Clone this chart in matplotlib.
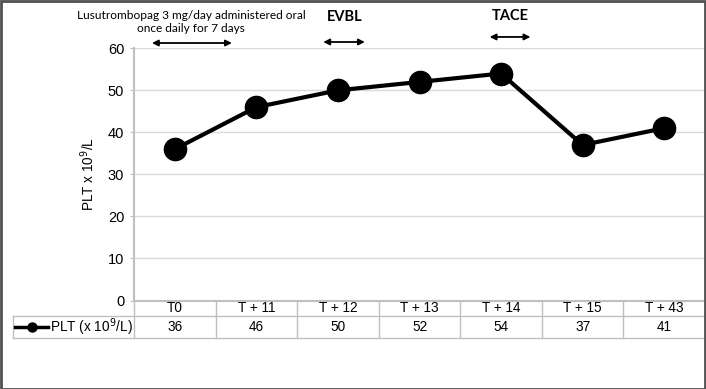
import matplotlib
matplotlib.use("Agg")
import matplotlib.pyplot as plt
from matplotlib.lines import Line2D
from matplotlib.patches import Rectangle

categories = ["T0", "T + 11", "T + 12", "T + 13", "T + 14", "T + 15", "T + 43"]
plt_values = [36, 46, 50, 52, 54, 37, 41]
y_ticks = [0, 10, 20, 30, 40, 50, 60]
series_label = "PLT (x 10$^{9}$/L)"

W, H = 706, 389
fig = plt.figure(figsize=(W / 100, H / 100), dpi=100)
ax = fig.add_axes([134 / W, 1 - 300.5 / H, 571 / W, 252.2 / H])

FS = 9.8
x = list(range(len(categories)))
ax.plot(x, plt_values, color="black", lw=3, marker="o", ms=16, zorder=5, clip_on=False)
ax.set_xlim(-0.5, len(categories) - 0.5)
ax.set_ylim(0, 60)
ax.set_yticks(y_ticks)
ax.set_yticklabels([str(v) for v in y_ticks], fontfamily="Liberation Sans", fontsize=FS + 0.7)
ax.tick_params(axis="y", length=3, color="#bfbfbf", pad=4)
ax.set_xticks([])
ax.grid(axis="y", color="#d9d9d9", lw=1)
ax.set_axisbelow(True)
for s in ["top", "right"]:
    ax.spines[s].set_visible(False)
ax.spines["left"].set_color("#bfbfbf")
ax.spines["left"].set_linewidth(1.5)
ax.spines["bottom"].set_color("#bfbfbf")
ax.spines["bottom"].set_linewidth(1.5)
ax.set_ylabel("PLT x 10$^{9}$/L", fontfamily="Liberation Sans", fontsize=FS, labelpad=8)

# Data table below the axis
trans = ax.get_xaxis_transform()
r1, r2 = -0.0615, -0.149
grid_c = "#bfbfbf"
left_edge = -1.98
for i in range(len(categories) + 1):
    xb = i - 0.5
    ax.add_line(Line2D([xb, xb], [0, r2], transform=trans, color=grid_c, lw=1, clip_on=False))
ax.add_line(Line2D([left_edge, left_edge], [r1, r2], transform=trans, color=grid_c, lw=1, clip_on=False))
ax.add_line(Line2D([left_edge, len(categories) - 0.5], [r1, r1], transform=trans, color=grid_c, lw=1, clip_on=False))
ax.add_line(Line2D([left_edge, len(categories) - 0.5], [r2, r2], transform=trans, color=grid_c, lw=1, clip_on=False))
for i, (c, v) in enumerate(zip(categories, plt_values)):
    ax.text(i, (0 + r1) / 2, c, transform=trans, ha="center", va="center",
            fontfamily="Liberation Sans", fontsize=FS)
    ax.text(i, (r1 + r2) / 2, str(v), transform=trans, ha="center", va="center",
            fontfamily="Liberation Sans", fontsize=FS)
# legend key in table
ym = (r1 + r2) / 2
ax.add_line(Line2D([left_edge + 0.025, left_edge + 0.42], [ym, ym], transform=trans,
                   color="black", lw=2.5, clip_on=False))
ax.plot([left_edge + 0.225], [ym], transform=trans, marker="o", ms=6.5,
        color="black", clip_on=False)
ax.text(left_edge + 0.45, ym, series_label, transform=trans, ha="left", va="center",
        fontfamily="Liberation Sans", fontsize=FS)

# Annotations above
ann_font = "Lato"
ax.text(0.2, 1.104, "Lusutrombopag 3 mg/day administered oral\nonce daily for 7 days",
        transform=trans, ha="center", va="center", fontfamily=ann_font, fontsize=8.6,
        linespacing=1.3)
arrow_kw = dict(arrowstyle="<|-|>", color="black", lw=1.3, mutation_scale=9, shrinkA=0, shrinkB=0)
ax.annotate("", xy=(-0.28, 1.021), xytext=(0.70, 1.021), xycoords=trans, textcoords=trans,
            arrowprops=arrow_kw)
ax.text(2.08, 1.124, "EVBL", transform=trans, ha="center", va="center", fontfamily=ann_font,
        fontsize=10.5, fontweight="bold")
ax.annotate("", xy=(1.82, 1.025), xytext=(2.33, 1.025), xycoords=trans, textcoords=trans,
            arrowprops=arrow_kw)
ax.text(4.11, 1.128, "TACE", transform=trans, ha="center", va="center", fontfamily=ann_font,
        fontsize=10.5, fontweight="bold")
ax.annotate("", xy=(3.86, 1.045), xytext=(4.36, 1.045), xycoords=trans, textcoords=trans,
            arrowprops=arrow_kw)

# outer frame
fig.add_artist(Rectangle((0.5 / W, 0.5 / H), 1 - 1.5 / W, 1 - 1.5 / H, transform=fig.transFigure,
                         fill=False, edgecolor="#505050", lw=2))

fig.savefig("out.png", dpi=100)
